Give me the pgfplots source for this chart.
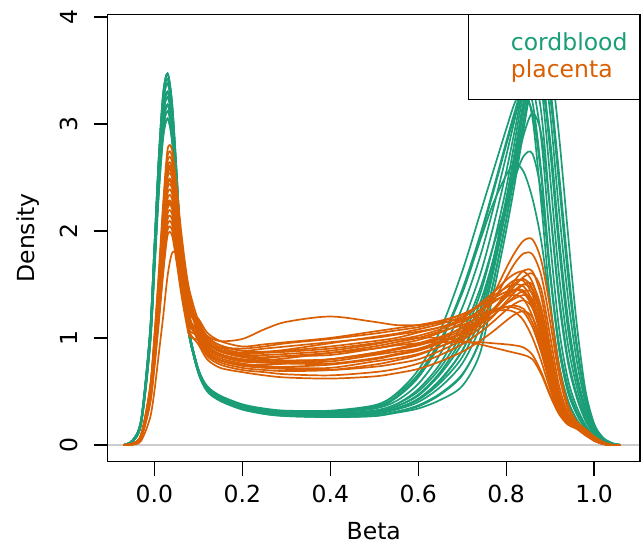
\documentclass[border=0pt]{standalone}
\usepackage{fontspec}
\setmainfont{DejaVu Sans}
\usepackage{pgfplots}
\usepackage{pgfplotstable}
\pgfplotsset{compat=1.18}
\definecolor{cord}{HTML}{1B9E77}
\definecolor{plac}{HTML}{D95F02}

% density curves, one column per sample
\pgfplotstableset{
  create on use/x/.style={create col/set list={-0.07,-0.05,-0.03,-0.01,0,0.01,0.02,0.03,0.04,0.05,0.06,0.07,0.08,0.10,0.12,0.15,0.20,0.25,0.30,0.40,0.50,0.55,0.60,0.65,0.70,0.74,0.77,0.80,0.82,0.84,0.86,0.88,0.90,0.92,0.94,0.96,0.98,1.00,1.02,1.04,1.06}},
  % cordblood
  create on use/g1/.style={create col/set list={0,0.04,0.24,1.05,1.84,2.68,3.28,3.47,3.20,2.58,1.88,1.40,1.04,0.70,0.54,0.45,0.37,0.33,0.31,0.31,0.34,0.41,0.57,0.85,1.28,1.75,2.20,2.70,3.05,3.38,3.35,2.85,1.90,1.10,0.62,0.36,0.19,0.08,0.03,0,0}},
  create on use/g2/.style={create col/set list={0,0.04,0.23,1.02,1.80,2.62,3.20,3.38,3.12,2.52,1.84,1.37,1.03,0.70,0.53,0.44,0.37,0.32,0.30,0.29,0.31,0.36,0.47,0.68,1.00,1.40,1.85,2.40,2.85,3.30,3.60,3.35,2.50,1.60,0.95,0.55,0.28,0.12,0.04,0.01,0}},
  create on use/g3/.style={create col/set list={0,0.04,0.22,1.00,1.75,2.55,3.12,3.30,3.05,2.45,1.80,1.35,1.02,0.69,0.52,0.43,0.36,0.31,0.29,0.31,0.36,0.48,0.70,1.07,1.62,2.15,2.55,2.95,3.20,3.33,3.05,2.25,1.35,0.75,0.42,0.24,0.13,0.06,0.02,0,0}},
  create on use/g4/.style={create col/set list={0,0.03,0.21,0.96,1.68,2.45,3.00,3.18,2.95,2.38,1.77,1.33,1.01,0.67,0.50,0.41,0.33,0.29,0.27,0.26,0.27,0.30,0.34,0.42,0.55,0.85,1.40,2.00,2.45,2.95,3.45,3.82,3.60,2.90,2.00,1.15,0.52,0.20,0.07,0.02,0}},
  create on use/g5/.style={create col/set list={0,0.03,0.20,0.92,1.62,2.35,2.88,3.05,2.85,2.32,1.74,1.32,1.00,0.68,0.51,0.42,0.35,0.30,0.28,0.27,0.29,0.33,0.40,0.54,0.76,1.10,1.60,2.20,2.65,3.12,3.55,3.70,3.10,2.20,1.40,0.80,0.40,0.16,0.05,0.01,0}},
  create on use/g6/.style={create col/set list={0,0.04,0.22,1.00,1.75,2.55,3.12,3.30,3.05,2.45,1.80,1.35,1.02,0.69,0.52,0.43,0.36,0.31,0.29,0.29,0.32,0.38,0.50,0.72,1.05,1.45,1.85,2.25,2.50,2.70,2.72,2.35,1.60,0.95,0.55,0.32,0.17,0.07,0.02,0,0}},
  create on use/g7/.style={create col/set list={0,0.04,0.23,1.02,1.80,2.62,3.20,3.38,3.12,2.52,1.84,1.37,1.03,0.71,0.55,0.46,0.38,0.34,0.32,0.32,0.37,0.47,0.66,0.98,1.42,1.90,2.25,2.52,2.63,2.55,2.30,1.90,1.30,0.75,0.42,0.24,0.12,0.05,0.01,0,0}},
  create on use/g8/.style={create col/set list={0,0.03,0.21,0.96,1.68,2.45,3.00,3.18,2.95,2.38,1.77,1.33,1.01,0.68,0.52,0.43,0.35,0.31,0.29,0.29,0.31,0.36,0.46,0.66,0.95,1.32,1.72,2.20,2.55,2.90,3.10,2.90,2.20,1.40,0.82,0.48,0.25,0.10,0.03,0.01,0}},
  create on use/g9/.style={create col/set list={0,0.04,0.24,1.05,1.84,2.68,3.28,3.47,3.20,2.58,1.88,1.40,1.04,0.70,0.53,0.44,0.36,0.32,0.30,0.28,0.30,0.34,0.43,0.60,0.88,1.25,1.70,2.28,2.72,3.18,3.48,3.45,2.75,1.85,1.10,0.62,0.32,0.13,0.04,0.01,0}},
  create on use/g10/.style={create col/set list={0,0.03,0.20,0.92,1.62,2.35,2.88,3.05,2.85,2.32,1.74,1.32,1.00,0.68,0.51,0.42,0.35,0.30,0.28,0.30,0.34,0.44,0.63,0.95,1.42,1.92,2.35,2.80,3.08,3.25,3.10,2.50,1.60,0.90,0.50,0.29,0.15,0.07,0.02,0,0}},
  create on use/g11/.style={create col/set list={0,0.04,0.22,1.00,1.75,2.55,3.12,3.30,3.05,2.45,1.80,1.35,1.02,0.68,0.51,0.42,0.34,0.29,0.27,0.26,0.27,0.31,0.36,0.47,0.65,0.98,1.50,2.10,2.55,3.02,3.42,3.60,3.25,2.45,1.60,0.92,0.45,0.18,0.06,0.01,0}},
  create on use/g12/.style={create col/set list={0,0.03,0.21,0.96,1.68,2.45,3.00,3.18,2.95,2.38,1.77,1.33,1.01,0.68,0.52,0.43,0.35,0.31,0.29,0.28,0.30,0.34,0.42,0.58,0.82,1.18,1.65,2.22,2.62,3.02,3.35,3.38,2.85,1.95,1.20,0.68,0.35,0.14,0.05,0.01,0}},
  create on use/g13/.style={create col/set list={0,0.04,0.23,1.03,1.82,2.65,3.24,3.42,3.16,2.55,1.86,1.38,1.03,0.70,0.54,0.45,0.37,0.33,0.31,0.30,0.35,0.45,0.64,0.96,1.45,1.95,2.38,2.83,3.12,3.36,3.20,2.55,1.62,0.92,0.52,0.30,0.16,0.07,0.02,0,0}},
  create on use/g14/.style={create col/set list={0,0.03,0.20,0.94,1.65,2.40,2.94,3.12,2.90,2.35,1.76,1.33,1.00,0.68,0.51,0.42,0.35,0.30,0.28,0.28,0.30,0.34,0.43,0.61,0.88,1.25,1.72,2.30,2.75,3.22,3.58,3.55,2.80,1.90,1.15,0.66,0.33,0.14,0.04,0.01,0}},
  create on use/g15/.style={create col/set list={0,0.04,0.24,1.05,1.84,2.68,3.28,3.47,3.20,2.58,1.88,1.40,1.04,0.70,0.53,0.44,0.36,0.31,0.28,0.27,0.28,0.31,0.37,0.48,0.66,0.97,1.50,2.10,2.55,3.03,3.50,3.78,3.35,2.55,1.70,0.97,0.46,0.18,0.06,0.01,0}},
  create on use/g16/.style={create col/set list={0,0.04,0.22,0.98,1.72,2.51,3.07,3.25,3.01,2.42,1.79,1.34,1.02,0.69,0.52,0.43,0.36,0.31,0.29,0.29,0.32,0.38,0.52,0.76,1.14,1.58,2.03,2.55,2.95,3.35,3.50,3.10,2.20,1.35,0.78,0.45,0.23,0.10,0.03,0,0}},
  % placenta
  create on use/o1/.style={create col/set list={0,0.01,0.10,0.54,1.02,1.61,2.26,2.76,2.76,2.43,2.03,1.69,1.44,1.16,1.01,0.93,0.88,0.87,0.88,0.92,0.97,1.00,1.05,1.10,1.18,1.32,1.42,1.54,1.60,1.62,1.52,1.22,0.80,0.45,0.26,0.19,0.13,0.06,0.02,0,0}},
  create on use/o2/.style={create col/set list={0,0.01,0.09,0.51,0.97,1.54,2.16,2.65,2.65,2.32,1.94,1.62,1.38,1.10,0.95,0.87,0.82,0.80,0.79,0.80,0.86,0.90,0.94,1.00,1.10,1.22,1.40,1.65,1.80,1.91,1.92,1.72,1.28,0.74,0.38,0.22,0.15,0.08,0.03,0,0}},
  create on use/o3/.style={create col/set list={0,0.01,0.09,0.49,0.94,1.48,2.08,2.55,2.55,2.24,1.87,1.56,1.33,1.08,0.93,0.85,0.80,0.78,0.77,0.78,0.84,0.87,0.90,0.97,1.05,1.18,1.34,1.56,1.70,1.79,1.78,1.58,1.15,0.66,0.34,0.20,0.14,0.07,0.02,0,0}},
  create on use/o4/.style={create col/set list={0,0.01,0.09,0.48,0.92,1.45,2.04,2.50,2.50,2.19,1.84,1.53,1.30,1.14,0.99,0.91,0.86,0.87,0.89,0.95,1.01,1.04,1.08,1.13,1.20,1.30,1.39,1.47,1.50,1.48,1.34,1.05,0.68,0.38,0.23,0.18,0.12,0.05,0.01,0,0}},
  create on use/o5/.style={create col/set list={0,0.01,0.09,0.48,0.90,1.43,2.00,2.45,2.45,2.15,1.80,1.50,1.28,1.04,0.89,0.81,0.76,0.74,0.72,0.72,0.78,0.81,0.85,0.92,1.00,1.12,1.25,1.42,1.51,1.55,1.46,1.18,0.76,0.42,0.25,0.18,0.12,0.05,0.01,0,0}},
  create on use/o6/.style={create col/set list={0,0.01,0.09,0.47,0.88,1.40,1.96,2.40,2.40,2.11,1.76,1.47,1.25,1.18,1.05,0.97,0.92,0.94,0.96,1.00,1.06,1.09,1.12,1.16,1.22,1.30,1.35,1.39,1.40,1.36,1.20,0.92,0.58,0.33,0.21,0.17,0.11,0.05,0.01,0,0}},
  create on use/o7/.style={create col/set list={0,0.01,0.08,0.46,0.86,1.37,1.92,2.35,2.35,2.06,1.73,1.44,1.22,1.14,1.02,0.97,0.99,1.08,1.15,1.20,1.15,1.12,1.12,1.14,1.18,1.22,1.25,1.26,1.24,1.16,1.00,0.78,0.52,0.31,0.20,0.16,0.10,0.04,0.01,0,0}},
  create on use/o8/.style={create col/set list={0,0.01,0.08,0.45,0.85,1.34,1.88,2.30,2.30,2.02,1.69,1.41,1.20,0.98,0.83,0.75,0.70,0.68,0.66,0.65,0.68,0.71,0.76,0.84,0.94,1.05,1.15,1.26,1.32,1.35,1.28,1.04,0.68,0.38,0.23,0.17,0.11,0.05,0.01,0,0}},
  create on use/o9/.style={create col/set list={0,0.01,0.08,0.44,0.83,1.31,1.84,2.25,2.25,1.98,1.66,1.38,1.17,1.06,0.91,0.83,0.78,0.79,0.81,0.86,0.92,0.96,1.00,1.06,1.12,1.19,1.24,1.29,1.30,1.27,1.14,0.90,0.58,0.33,0.21,0.17,0.11,0.05,0.01,0,0}},
  create on use/o10/.style={create col/set list={0,0.01,0.08,0.43,0.81,1.28,1.80,2.21,2.21,1.94,1.62,1.35,1.15,1.02,0.87,0.79,0.74,0.73,0.73,0.75,0.80,0.84,0.88,0.95,1.04,1.13,1.21,1.32,1.39,1.44,1.42,1.20,0.80,0.44,0.25,0.18,0.12,0.06,0.02,0,0}},
  create on use/o11/.style={create col/set list={0,0.01,0.08,0.42,0.79,1.25,1.76,2.16,2.16,1.89,1.58,1.32,1.12,1.00,0.85,0.77,0.72,0.70,0.69,0.70,0.75,0.79,0.84,0.92,1.02,1.14,1.26,1.42,1.54,1.63,1.62,1.38,0.92,0.50,0.28,0.19,0.13,0.06,0.02,0,0}},
  create on use/o12/.style={create col/set list={0,0.01,0.08,0.41,0.77,1.23,1.72,2.11,2.11,1.85,1.55,1.29,1.10,1.06,0.95,0.89,0.85,0.86,0.87,0.90,0.95,0.98,1.00,1.00,0.97,0.94,0.91,0.88,0.86,0.84,0.80,0.66,0.46,0.29,0.19,0.15,0.09,0.04,0.01,0,0}},
  create on use/o13/.style={create col/set list={0,0.01,0.07,0.40,0.76,1.20,1.68,2.06,2.06,1.81,1.51,1.26,1.07,1.02,0.90,0.84,0.80,0.81,0.83,0.86,0.90,0.93,0.95,0.96,0.96,0.96,0.95,0.94,0.93,0.91,0.84,0.68,0.47,0.30,0.20,0.16,0.10,0.04,0.01,0,0}},
  create on use/o14/.style={create col/set list={0,0.01,0.07,0.39,0.74,1.17,1.64,2.01,2.01,1.76,1.48,1.23,1.05,0.94,0.80,0.72,0.68,0.65,0.63,0.62,0.64,0.67,0.71,0.78,0.87,0.97,1.06,1.16,1.22,1.25,1.19,0.97,0.64,0.36,0.22,0.17,0.11,0.05,0.01,0,0}},
  create on use/o15/.style={create col/set list={0,0,0.04,0.25,0.50,0.85,1.20,1.58,1.79,1.78,1.58,1.34,1.15,0.97,0.85,0.79,0.75,0.75,0.76,0.80,0.86,0.90,0.95,1.01,1.09,1.17,1.24,1.32,1.37,1.40,1.36,1.14,0.76,0.42,0.25,0.18,0.12,0.05,0.01,0,0}},
  create on use/o16/.style={create col/set list={0,0.01,0.09,0.50,0.95,1.51,2.12,2.60,2.60,2.28,1.91,1.59,1.35,1.11,0.96,0.88,0.83,0.82,0.83,0.84,0.90,0.94,0.98,1.05,1.14,1.26,1.36,1.48,1.54,1.53,1.40,1.10,0.72,0.40,0.24,0.18,0.12,0.05,0.01,0,0}},
  create on use/o17/.style={create col/set list={0,0.01,0.10,0.52,0.99,1.57,2.20,2.70,2.70,2.37,1.98,1.65,1.40,1.07,0.92,0.84,0.79,0.77,0.76,0.76,0.81,0.85,0.89,0.96,1.05,1.15,1.25,1.39,1.49,1.57,1.60,1.45,1.02,0.56,0.30,0.20,0.14,0.07,0.02,0,0}},
  create on use/o18/.style={create col/set list={0,0.01,0.07,0.38,0.72,1.14,1.60,1.96,1.96,1.72,1.44,1.20,1.02,0.98,0.93,0.91,0.90,0.92,0.95,0.99,1.04,1.07,1.10,1.15,1.22,1.30,1.37,1.43,1.45,1.42,1.28,1.00,0.64,0.36,0.22,0.17,0.11,0.05,0.01,0,0}},
  create on use/o19/.style={create col/set list={0,0.01,0.09,0.50,0.94,1.49,2.10,2.57,2.57,2.25,1.89,1.57,1.34,1.06,0.91,0.83,0.78,0.77,0.78,0.80,0.85,0.89,0.93,0.99,1.07,1.17,1.27,1.38,1.45,1.50,1.45,1.18,0.78,0.43,0.25,0.18,0.12,0.06,0.02,0,0}},
  create on use/o20/.style={create col/set list={0,0.01,0.09,0.47,0.89,1.41,1.98,2.43,2.43,2.13,1.79,1.49,1.26,1.12,0.97,0.89,0.84,0.84,0.85,0.88,0.94,0.98,1.02,1.08,1.16,1.25,1.33,1.41,1.45,1.44,1.31,1.03,0.66,0.37,0.22,0.17,0.11,0.05,0.01,0,0}},
  create on use/o21/.style={create col/set list={0,0.01,0.08,0.43,0.82,1.30,1.82,2.23,2.23,1.96,1.64,1.37,1.16,1.02,0.87,0.79,0.74,0.72,0.71,0.70,0.73,0.76,0.80,0.88,0.98,1.09,1.20,1.34,1.43,1.50,1.50,1.28,0.86,0.47,0.27,0.19,0.13,0.06,0.02,0,0}},
  create on use/o22/.style={create col/set list={0,0.01,0.09,0.49,0.93,1.47,2.06,2.53,2.53,2.22,1.86,1.55,1.32,1.16,1.01,0.93,0.88,0.90,0.92,0.96,1.00,1.03,1.06,1.10,1.16,1.22,1.26,1.29,1.28,1.24,1.10,0.86,0.56,0.32,0.20,0.16,0.10,0.04,0.01,0,0}},
}
\pgfplotstablenew[columns={x,g1,g2,g3,g4,g5,g6,g7,g8,g9,g10,g11,g12,g13,g14,g15,g16,o1,o2,o3,o4,o5,o6,o7,o8,o9,o10,o11,o12,o13,o14,o15,o16,o17,o18,o19,o20,o21,o22}]{41}\dens

\begin{document}
\begin{tikzpicture}[font=\fontsize{23.5bp}{28bp}\selectfont]
\begin{axis}[
  scale only axis,
  width=532.4bp, height=447.3bp,
  xmin=-0.1064, xmax=1.1044, ymin=-0.155, ymax=4.025,
  axis on top,
  axis line style={line width=1.3bp},
  every tick/.style={black, line width=1.3bp},
  tick align=outside, tick pos=left,
  major tick length=14bp,
  xtick={0,0.2,0.4,0.6,0.8,1}, ytick={0,1,2,3,4},
  /pgf/number format/assume math mode=true,
  xticklabel style={inner sep=0pt, anchor=north, yshift=-9bp,
    /pgf/number format/.cd, fixed, fixed zerofill, precision=1},
  yticklabel style={inner sep=0pt, rotate=90, anchor=south, yshift=16bp},
  xlabel={Beta}, ylabel={Density},
  xlabel style={at={(axis description cs:0.5,-0.1744)}, anchor=base, inner sep=0pt},
  ylabel style={at={(axis description cs:-0.1365,0.5)}, anchor=base, inner sep=0pt},
  clip=true,
]
\addplot[gray!40, line width=1.2bp] coordinates {(-0.2,0) (1.2,0)};
\pgfplotsinvokeforeach{1,...,16}{
  \addplot[cord, line width=1.7bp, smooth] table[x=x, y=g#1] {\dens};
}
\pgfplotsinvokeforeach{1,...,22}{
  \addplot[plac, line width=1.7bp, smooth] table[x=x, y=o#1] {\dens};
}
\node[draw=black, line width=1.3bp, fill=white, anchor=north east, minimum width=171bp, minimum height=85bp, inner sep=0pt] (leg) at (rel axis cs:1,1) {};
\node[anchor=west, inner sep=0pt, text=cord] at ([xshift=43bp, yshift=-28bp]leg.north west) {cordblood};
\node[anchor=west, inner sep=0pt, text=plac] at ([xshift=43bp, yshift=-57bp]leg.north west) {placenta};
\end{axis}
\path (current axis.south west) ++(-107.6bp,-82.5bp) (current axis.north east) ++(3bp,14.2bp);
\end{tikzpicture}
\end{document}
